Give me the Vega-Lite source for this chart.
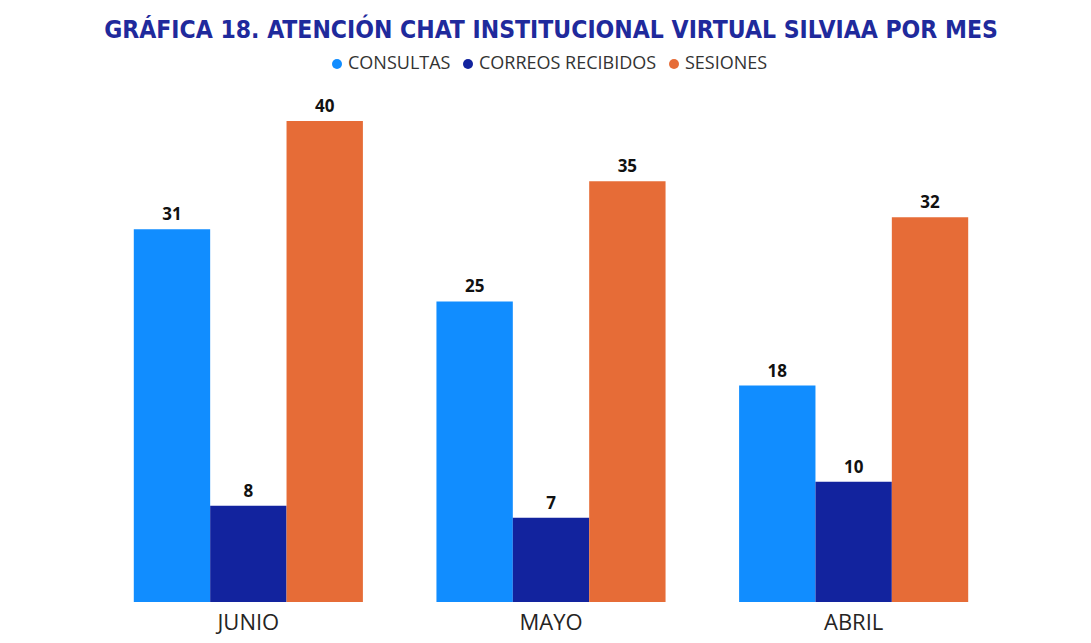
{
  "$schema": "https://vega.github.io/schema/vega-lite/v6.json",
  "autosize": "none",
  "width": 1016,
  "height": 481,
  "padding": {"left": 43, "top": 121, "right": 32, "bottom": 41},
  "background": "white",
  "config": {"view": {"stroke": null}},
  "title": {
    "text": "GRÁFICA 18. ATENCIÓN CHAT INSTITUCIONAL VIRTUAL SILVIAA POR MES",
    "font": "DejaVu Sans Condensed",
    "fontWeight": "bold",
    "fontSize": 24.5,
    "color": "#1F2A9C",
    "anchor": "middle",
    "offset": 12
  },
  "data": {
    "values": [
      {"mes": "JUNIO", "serie": "CONSULTAS", "valor": 31},
      {"mes": "JUNIO", "serie": "CORREOS RECIBIDOS", "valor": 8},
      {"mes": "JUNIO", "serie": "SESIONES", "valor": 40},
      {"mes": "MAYO", "serie": "CONSULTAS", "valor": 25},
      {"mes": "MAYO", "serie": "CORREOS RECIBIDOS", "valor": 7},
      {"mes": "MAYO", "serie": "SESIONES", "valor": 35},
      {"mes": "ABRIL", "serie": "CONSULTAS", "valor": 18},
      {"mes": "ABRIL", "serie": "CORREOS RECIBIDOS", "valor": 10},
      {"mes": "ABRIL", "serie": "SESIONES", "valor": 32}
    ]
  },
  "encoding": {
    "x": {
      "field": "mes", "type": "nominal", "sort": ["JUNIO", "MAYO", "ABRIL"],
      "scale": {"paddingInner": 0.243, "paddingOuter": 0.3},
      "axis": {"title": null, "labelAngle": 0, "ticks": false, "domain": false,
               "labelFont": "Open Sans", "labelFontSize": 22, "labelColor": "#252423", "labelPadding": 10}
    },
    "xOffset": {"field": "serie", "type": "nominal", "sort": ["CONSULTAS", "CORREOS RECIBIDOS", "SESIONES"], "scale": {"paddingInner": 0, "paddingOuter": 0}},
    "y": {"field": "valor", "type": "quantitative", "scale": {"domain": [0, 40], "nice": false}, "axis": null}
  },
  "layer": [
    {
      "mark": {"type": "bar"},
      "encoding": {
        "color": {
          "field": "serie", "type": "nominal",
          "sort": ["CONSULTAS", "CORREOS RECIBIDOS", "SESIONES"],
          "scale": {"domain": ["CONSULTAS", "CORREOS RECIBIDOS", "SESIONES"], "range": ["#118DFF", "#12239E", "#E66C37"]},
          "legend": {
            "title": null, "orient": "none", "direction": "horizontal",
            "legendX": 285, "legendY": -66,
            "symbolType": "circle", "symbolSize": 100, "symbolStrokeWidth": 0,
            "labelFont": "Open Sans", "labelFontSize": 18, "labelColor": "#333333",
            "labelLimit": 0, "labelOffset": 2, "columnPadding": 8
          }
        }
      }
    },
    {
      "mark": {"type": "text", "baseline": "bottom", "dy": -5, "font": "Open Sans", "fontWeight": "bold", "fontSize": 17, "color": "#111111"},
      "encoding": {"text": {"field": "valor", "type": "quantitative"}}
    }
  ]
}
